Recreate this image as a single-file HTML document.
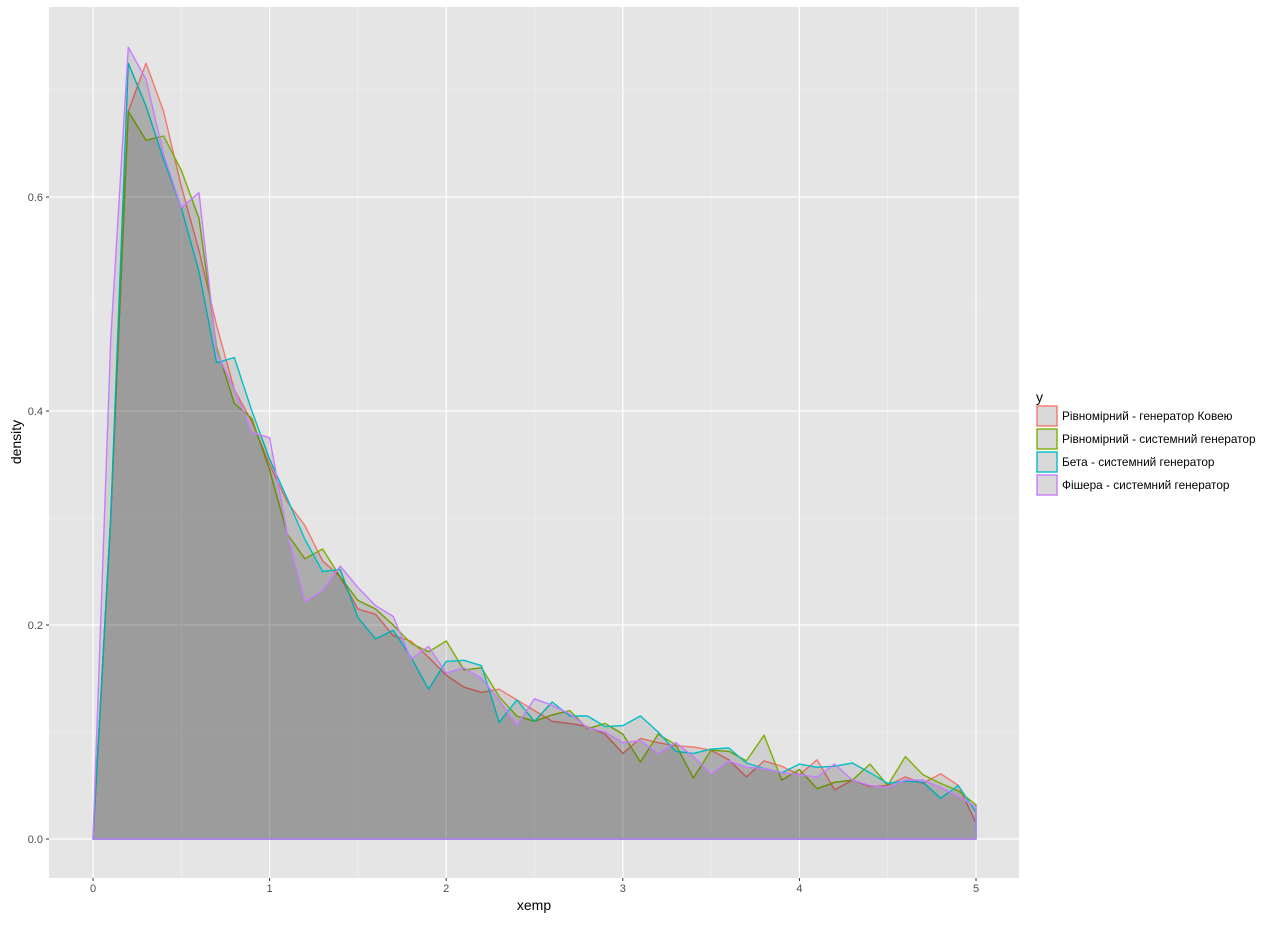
<!DOCTYPE html>
<html><head><meta charset="utf-8"><style>
body{margin:0;background:#fff;font-family:"Liberation Sans","DejaVu Sans",sans-serif}
</style></head><body>
<svg id="chart" width="1280" height="920" xmlns="http://www.w3.org/2000/svg"></svg>
<script>
const xs = [0,0.1,0.2,0.3,0.4,0.5,0.6,0.7,0.8,0.9,1.0,1.1,1.2,1.3,1.4,1.5,1.6,1.7,1.8,1.9,2.0,2.1,2.2,2.3,2.4,2.5,2.6,2.7,2.8,2.9,3.0,3.1,3.2,3.3,3.4,3.5,3.6,3.7,3.8,3.9,4.0,4.1,4.2,4.3,4.4,4.5,4.6,4.7,4.8,4.9,5.0];
const seriesNames = ["Рівномірний - генератор Ковею","Рівномірний - системний генератор","Бета - системний генератор","Фішера - системний генератор"];
const seriesColors = ["#F8766D","#7CAE00","#00BFC4","#C77CFF"];
const redVals = [0,0.3,0.68,0.725,0.68,0.61,0.55,0.48,0.42,0.39,0.35,0.315,0.293,0.26,0.245,0.215,0.21,0.19,0.185,0.17,0.153,0.142,0.137,0.14,0.13,0.12,0.11,0.108,0.105,0.098,0.08,0.094,0.09,0.087,0.086,0.083,0.074,0.058,0.073,0.068,0.06,0.074,0.046,0.055,0.049,0.05,0.058,0.052,0.061,0.05,0.015];
const greenVals = [0,0.3,0.68,0.653,0.657,0.625,0.58,0.46,0.407,0.393,0.345,0.285,0.262,0.271,0.245,0.223,0.215,0.2,0.183,0.175,0.185,0.158,0.16,0.133,0.115,0.11,0.116,0.12,0.103,0.108,0.098,0.072,0.098,0.088,0.057,0.083,0.082,0.073,0.097,0.055,0.065,0.047,0.053,0.055,0.07,0.05,0.077,0.06,0.052,0.045,0.032];
const tealVals = [0,0.3,0.725,0.685,0.635,0.59,0.53,0.445,0.45,0.4,0.355,0.318,0.28,0.25,0.252,0.207,0.187,0.195,0.17,0.14,0.166,0.167,0.162,0.109,0.13,0.11,0.128,0.115,0.115,0.105,0.106,0.115,0.1,0.082,0.08,0.084,0.085,0.071,0.066,0.062,0.07,0.067,0.068,0.071,0.062,0.052,0.054,0.053,0.038,0.05,0.025];
const purpleVals = [0,0.466,0.74,0.71,0.64,0.59,0.604,0.455,0.42,0.38,0.375,0.285,0.222,0.232,0.255,0.235,0.218,0.208,0.168,0.18,0.155,0.16,0.15,0.13,0.106,0.131,0.125,0.117,0.104,0.1,0.09,0.092,0.08,0.09,0.077,0.061,0.073,0.067,0.066,0.062,0.06,0.058,0.07,0.055,0.05,0.048,0.055,0.055,0.048,0.04,0.03];
const xTicks = [0,1,2,3,4,5];
const yTicks = [0,0.2,0.4,0.6];
const yTickLabels = ["0.0","0.2","0.4","0.6"];

const NS="http://www.w3.org/2000/svg";
const svg=document.getElementById('chart');
const P={l:49,r:1019,t:7,b:878};
const sx=v=>93+v*176.6;
const sy=v=>839-v*1070;
function mk(tag,attrs,parent){const e=document.createElementNS(NS,tag);for(const k in attrs)e.setAttribute(k,attrs[k]);(parent||svg).appendChild(e);return e;}

const panel=mk('rect',{x:P.l,y:P.t,width:P.r-P.l,height:P.b-P.t,fill:'#e5e5e5'});


for(let v=0.5;v<5;v+=1){const g=mk('line',{x1:sx(v),x2:sx(v),y1:P.t,y2:P.b,stroke:'#f2f2f2','stroke-width':0.6});

}
for(let v=0.1;v<0.8;v+=0.2){const g=mk('line',{x1:P.l,x2:P.r,y1:sy(v),y2:sy(v),stroke:'#f2f2f2','stroke-width':0.6});

}
xTicks.forEach(v=>{const g=mk('line',{x1:sx(v),x2:sx(v),y1:P.t,y2:P.b,stroke:'#fff','stroke-width':1.2});

});
yTicks.forEach(v=>{const g=mk('line',{x1:P.l,x2:P.r,y1:sy(v),y2:sy(v),stroke:'#fff','stroke-width':1.2});

});

const allVals=[redVals,greenVals,tealVals,purpleVals];
const seriesKeys=['series-kovey','series-uniform-system','series-beta','series-fisher'];
allVals.forEach((vals,i)=>{
  let d='M'+sx(xs[0])+','+sy(0);
  xs.forEach((x,j)=>{d+=' L'+sx(x).toFixed(1)+','+sy(vals[j]).toFixed(1);});
  d+=' L'+sx(xs[xs.length-1])+','+sy(0)+' Z';
  const p=mk('path',{d:d,fill:'#000','fill-opacity':0.09,stroke:seriesColors[i],'stroke-width':1.4,'stroke-linejoin':'round'});
  
  
});

xTicks.forEach(v=>{
  const t=mk('line',{x1:sx(v),x2:sx(v),y1:P.b,y2:P.b+3,stroke:'#333','stroke-width':1});
  
  
  const l=mk('text',{x:sx(v),y:P.b+14,'text-anchor':'middle','font-size':11,fill:'#4d4d4d'});
  l.textContent=v;
  
  
});
yTicks.forEach((v,i)=>{
  const t=mk('line',{x1:P.l-3,x2:P.l,y1:sy(v),y2:sy(v),stroke:'#333','stroke-width':1});
  
  
  const l=mk('text',{x:P.l-6,y:sy(v)+4,'text-anchor':'end','font-size':11,fill:'#4d4d4d'});
  l.textContent=yTickLabels[i];
  
  
});
const xt=mk('text',{x:(P.l+P.r)/2,y:910,'text-anchor':'middle','font-size':14,fill:'#000'});
xt.textContent='xemp';


const yt=mk('text',{x:0,y:0,'text-anchor':'middle','font-size':14,fill:'#000',transform:'translate(21,442) rotate(-90)'});
yt.textContent='density';



const lt=mk('text',{x:1036,y:402,'font-size':14,fill:'#000'});
lt.textContent='y';


seriesNames.forEach((n,i)=>{
  const y0=406+i*23;
  const g=mk('g',{});
  
  
  mk('rect',{x:1037,y:y0,width:20,height:20,fill:'#d9d9d9',stroke:seriesColors[i],'stroke-width':1.4},g);
  const t=mk('text',{x:1062,y:y0+14,'font-size':11.8,fill:'#000'},g);
  t.textContent=n;
});
</script>
</body></html>
